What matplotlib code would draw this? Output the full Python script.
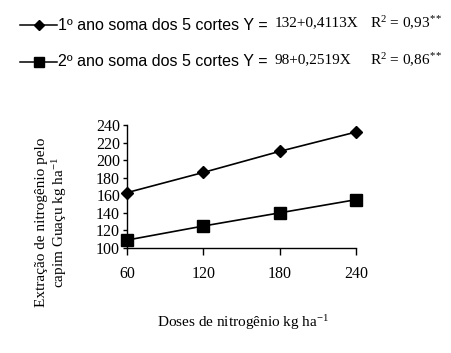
import matplotlib
matplotlib.use("Agg")
import matplotlib.pyplot as plt
from matplotlib.lines import Line2D

doses = [60, 120, 180, 240]
ano1 = [163, 186, 210, 232]
ano2 = [109, 125, 140, 155]
yticks = [100, 120, 140, 160, 180, 200, 220, 240]
xticks = [60, 120, 180, 240]

plt.rcParams["mathtext.fontset"] = "custom"
plt.rcParams["mathtext.rm"] = "Liberation Serif"
plt.rcParams["mathtext.it"] = "Liberation Serif:italic"
plt.rcParams["mathtext.bf"] = "Liberation Serif:bold"
plt.rcParams["mathtext.default"] = "rm"

W, H = 452, 353
fig = plt.figure(figsize=(W / 100, H / 100), dpi=100)
ax = fig.add_axes([127 / W, 1 - 248 / H, (356 - 127) / W, (248 - 125) / H])

serif = "Liberation Serif"
sans = "Liberation Sans"

ax.plot(doses, ano1, color="black", lw=1.2, marker="D", markersize=6, clip_on=False)
ax.plot(doses, ano2, color="black", lw=1.2, marker="s", markersize=8, clip_on=False)

ax.set_xlim(60, 240)
ax.set_ylim(100, 240)
ax.set_xticks(xticks)
ax.set_yticks(yticks)
for s in ["top", "right"]:
    ax.spines[s].set_visible(False)
for s in ["left", "bottom"]:
    ax.spines[s].set_linewidth(1.0)
ax.tick_params(axis="x", direction="out", length=5, width=1, pad=8)
ax.tick_params(axis="y", direction="out", length=3, width=1, pad=2)
for lab in ax.get_xticklabels() + ax.get_yticklabels():
    lab.set_fontfamily(serif)
    lab.set_fontsize(11.5)

fig.text(243 / W, 1 - 323 / H, "Doses de nitrogênio kg ha$^{-1}$", ha="center", va="center",
         fontfamily=serif, fontsize=11)
fig.text(52 / W, 1 - 222 / H, "Extração de nitrogênio pelo\ncapim Guaçu kg ha$^{-1}$",
         ha="center", va="center", rotation=90, fontfamily=serif, fontsize=11,
         linespacing=1.1, multialignment="center")

# legend
rows = [
    (25, "D", 5, "1º ano soma dos 5 cortes Y =", "132+0,4113X", "0,93"),
    (62, "s", 6.5, "2º ano soma dos 5 cortes Y =", "98+0,2519X", "0,86"),
]
for y, mk, ms, t1, t2, r2 in rows:
    fy = 1 - y / H
    fig.add_artist(Line2D([20 / W, 57 / W], [fy, fy], color="black", lw=1.1,
                          transform=fig.transFigure))
    fig.add_artist(Line2D([39 / W], [fy], color="black", marker=mk, markersize=ms,
                          transform=fig.transFigure))
    fig.text(58 / W, fy, t1, ha="left", va="center", fontfamily=sans, fontsize=11.5)
    fig.text(275 / W, fy + 2 / H, t2, ha="left", va="center", fontfamily=serif, fontsize=11)
    fig.text(370 / W, fy + 2 / H, "R$^{2}$ = " + r2 + "$^{**}$", ha="left", va="center",
             fontfamily=serif, fontsize=11)

fig.savefig("out.png", dpi=100)
